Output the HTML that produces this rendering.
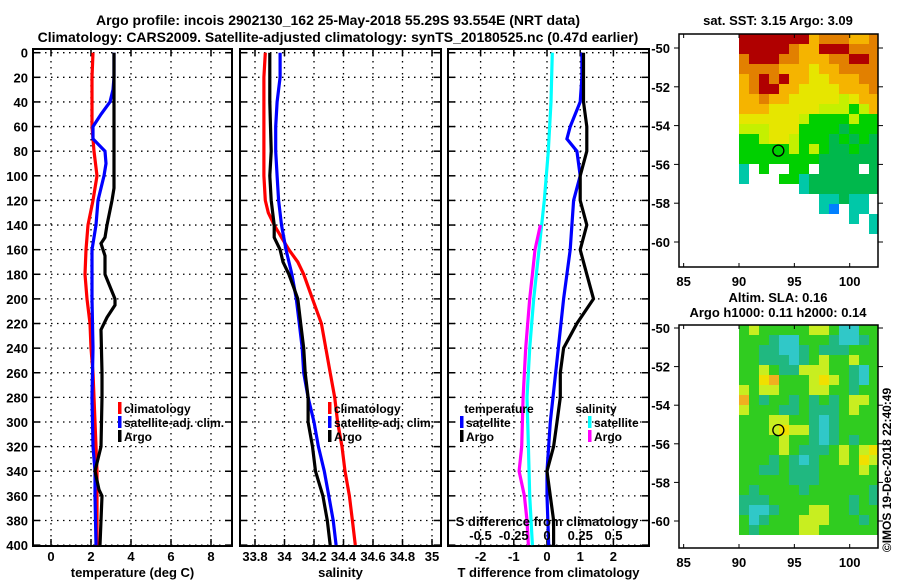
<!DOCTYPE html>
<html><head><meta charset="utf-8"><style>
html,body{margin:0;padding:0;background:#fff}
svg text{font-family:"Liberation Sans",sans-serif;font-weight:bold;fill:#000}
</style></head><body>
<svg id="chart" width="900" height="580" viewBox="0 0 900 580" xmlns="http://www.w3.org/2000/svg">
<rect width="900" height="580" fill="#fff"/>
<text x="338" y="25" font-size="14" text-anchor="middle">Argo profile: incois 2902130_162 25-May-2018 55.29S 93.554E (NRT data)</text>
<text x="338" y="42" font-size="14" text-anchor="middle">Climatology: CARS2009. Satellite-adjusted climatology: synTS_20180525.nc (0.47d earlier)</text>
<g id="g"></g>
</svg>
<script>
// ---- data ----
const depthTicks=[0,20,40,60,80,100,120,140,160,180,200,220,240,260,280,300,320,340,360,380,400];
const tTicks=[0,2,4,6,8];
const sTicks=[33.8,34,34.2,34.4,34.6,34.8,35];
const sTickLabels=["33.8","34","34.2","34.4","34.6","34.8","35"];
const dTTicks=[-2,-1,0,1,2];
const dSTicks=[-0.5,-0.25,0,0.25,0.5];
const dSTickLabels=["-0.5","-0.25","0","0.25","0.5"];

const tClimDepth=[0,20,60,80,100,120,140,160,180,200,220,240,260,280,300,320,340,360,380,400];
const tClim=[2.1,2.05,2.05,2.15,2.3,2.1,1.85,1.75,1.7,1.8,1.95,2.0,2.1,2.15,2.2,2.25,2.3,2.3,2.3,2.3];
const tSatDepth=[0,20,30,40,50,60,70,80,90,100,120,140,160,200,240,280,320,340,360,400];
const tSat=[3.15,3.15,3.1,2.95,2.5,2.1,2.1,2.7,2.75,2.65,2.35,2.25,2.05,2.05,2.1,2.05,2.1,2.2,2.2,2.25];
const tArgoDepth=[0,110,120,140,150,155,165,180,190,200,205,215,225,260,280,320,330,340,355,360,400];
const tArgo=[3.15,3.15,3.05,2.8,2.7,2.5,2.7,2.7,2.95,3.2,3.2,2.8,2.5,2.55,2.55,2.5,2.35,2.2,2.4,2.55,2.45];

const sClimDepth=[0,20,60,100,120,130,140,150,160,170,180,200,220,240,260,280,300,320,340,360,380,400];
const sClim=[33.87,33.86,33.86,33.86,33.87,33.89,33.93,33.98,34.03,34.09,34.13,34.19,34.25,34.28,34.31,34.34,34.36,34.39,34.41,34.44,34.46,34.48];
const sSatDepth=[0,20,40,60,80,100,120,140,160,180,200,220,240,260,280,300,320,340,360,380,400];
const sSat=[33.97,33.97,33.95,33.94,33.94,33.95,33.96,33.98,34.01,34.05,34.08,34.1,34.12,34.13,34.16,34.2,34.23,34.27,34.3,34.33,34.35];
const sArgoDepth=[0,40,80,100,120,140,150,160,170,180,190,200,220,240,260,280,300,320,340,360,380,400];
const sArgo=[33.9,33.9,33.91,33.9,33.91,33.93,33.93,33.97,33.99,34.03,34.06,34.09,34.11,34.13,34.14,34.16,34.16,34.19,34.21,34.26,34.29,34.31];

const dTSatDepth=[0,20,40,60,70,80,100,120,160,200,250,300,340,360,400];
const dTSat=[1.05,1.05,1.0,0.7,0.6,0.9,1.0,0.8,0.7,0.5,0.3,0.1,0.0,0.0,0.05];
const dTArgoDepth=[0,40,60,80,100,120,140,160,180,200,220,240,260,280,300,320,340,360,380,400];
const dTArgo=[1.1,1.1,1.2,1.2,1.0,1.0,1.2,1.0,1.2,1.4,0.9,0.5,0.4,0.4,0.3,0.2,0.0,0.1,0.2,0.2];
const dSSatDepth=[0,40,80,120,160,200,240,280,320,360,400];
const dSSat=[0.04,0.03,0.01,-0.02,-0.06,-0.1,-0.13,-0.15,-0.14,-0.13,-0.11];
const dSArgoDepth=[140,160,180,200,240,280,320,340,360,380,400];
const dSArgo=[-0.05,-0.09,-0.11,-0.13,-0.16,-0.18,-0.19,-0.21,-0.17,-0.15,-0.14];

const lonTicks=[85,90,95,100];
const latTicks=[-50,-52,-54,-56,-58,-60];
const argoLon=93.554, argoLat=-55.29;
const sstRows=[
"rrrrrrryoooyyo","rrrrroyyrrrooo","orrrooyyyoorro","ooooyyyYyyoooo","yororyyYYyyyoo",
"yorryyYYYYyyyo","yyoyyYYYYYlYyy","yyyYYYYYlllgly","YYYYYYlgggglgg","lllYYYggggGggg",
"gglYYlgggGgGgG","ggggglglgGGgGG","ggggggggGGGGGG","c.g..gg.GGGG.G","c...ggcGGGGGGG",
"......cGGGGGGG","........ccGcc.","........cb.cc.","...........c.c",".............c"];
const slaRows=[
"gygggggyygccgg","gggtccgggtcctg","ggttcctgtttggg","ggtttctgyggygg","ggygttyyyggtcg",
"ggYogggyYygtcg","ygyygggyyggtgg","ogtggtgtgtgyyg","ygggttgtttgygg","gggyyggtctgggg",
"gggyYyytctgggg","ggggyggtctgtgg","ggggygtttgygyY","gggtgtctggygYy","ggttgtttggggyg",
"gggggtttgggggg","gtggggtggggggtt","tttggggggggtgt","tcctgggyyggtgg","gctgggyyygggtg",
"gtggggyygggggg"];

// ---- drawing ----
const NS="http://www.w3.org/2000/svg";
const G=document.getElementById('g');
function el(tag,attrs,parent){const e=document.createElementNS(NS,tag);for(const k in attrs)e.setAttribute(k,attrs[k]);(parent||G).appendChild(e);return e;}
function txt(s,x,y,size,anchor,parent){const t=el('text',{x:x,y:y,'font-size':size,'text-anchor':anchor||'middle'},parent);t.textContent=s;return t;}
const Y0=52.7,YK=1.231;
const yD=d=>Y0+YK*d;
const TOP=49,BOT=546;

function panel(name,x0,x1,xs,ticks,labels,xlabel,showY){
  const g=el('g',{});
  
  
  depthTicks.forEach(d=>{const y=yD(d);
    const l=el('line',{x1:x0,x2:x1,y1:y,y2:y,stroke:'#000','stroke-width':1.3,'stroke-dasharray':'1.5 4.5'},g);
    
    el('line',{x1:x0,x2:x0+7,y1:y,y2:y,stroke:'#000','stroke-width':1.5},g);
    el('line',{x1:x1-7,x2:x1,y1:y,y2:y,stroke:'#000','stroke-width':1.5},g);
    if(showY){const t=txt(String(d),28,y+5,13,'end',g);}
  });
  ticks.forEach((v,i)=>{const x=xs(v);
    const l=el('line',{x1:x,x2:x,y1:TOP,y2:BOT,stroke:'#000','stroke-width':1.3,'stroke-dasharray':'1.5 4.5'},g);
    
    el('line',{x1:x,x2:x,y1:TOP,y2:TOP+7,stroke:'#000','stroke-width':1.5},g);
    el('line',{x1:x,x2:x,y1:BOT-7,y2:BOT,stroke:'#000','stroke-width':1.5},g);
    if(labels){const t=txt(labels[i],x,561,13,'middle',g);}
  });
  const f=el('rect',{x:x0,y:TOP,width:x1-x0,height:BOT-TOP,fill:'none',stroke:'#000','stroke-width':2},g);
  
  const xl=txt(xlabel,(x0+x1)/2,577,13,'middle',g);
  
  
  return g;
}
function line(g,xs,depths,vals,color,name){
  const pts=depths.map((d,i)=>xs(vals[i]).toFixed(1)+','+yD(d).toFixed(1)).join(' ');
  const p=el('polyline',{points:pts,fill:'none',stroke:color,'stroke-width':3.2,'stroke-linejoin':'miter'},g);
  
  
}
function legend(g,x,y,color,label,name){
  const r=el('rect',{x:x,y:y-11,width:3.5,height:12,fill:color},g);
  const t=txt(label,x+6,y,12,'start',g);
  
  
}

// panel 1 temperature
const xT=v=>51+20*v;
const p1=panel('temperature-panel',33,232,xT,tTicks,tTicks.map(String),'temperature (deg C)',true);
line(p1,xT,tClimDepth,tClim,'#ff0000','temp-climatology-line');
line(p1,xT,tSatDepth,tSat,'#0000ff','temp-satellite-line');
line(p1,xT,tArgoDepth,tArgo,'#000','temp-argo-line');
legend(p1,118,413,'#f00','climatology','legend-climatology');
legend(p1,118,427,'#00f','satellite-adj. clim.','legend-satellite');
legend(p1,118,441,'#000','Argo','legend-argo');

// panel 2 salinity
const xS=v=>255+147.5*(v-33.8);
const p2=panel('salinity-panel',240,441,xS,sTicks,sTickLabels,'salinity',false);
line(p2,xS,sClimDepth,sClim,'#ff0000','sal-climatology-line');
line(p2,xS,sSatDepth,sSat,'#0000ff','sal-satellite-line');
line(p2,xS,sArgoDepth,sArgo,'#000','sal-argo-line');
legend(p2,328,413,'#f00','climatology','legend-climatology-2');
legend(p2,328,427,'#00f','satellite-adj. clim.','legend-satellite-2');
legend(p2,328,441,'#000','Argo','legend-argo-2');

// panel 3 differences
const xdT=v=>547+33.2*v;
const xdS=v=>547+133*v;
const p3=panel('difference-panel',448,649,xdT,dTTicks,dTTicks.map(String),'T difference from climatology',false);
line(p3,xdS,dSSatDepth,dSSat,'#00ffff','dsal-satellite-line');
line(p3,xdS,dSArgoDepth,dSArgo,'#ff00ff','dsal-argo-line');
line(p3,xdT,dTSatDepth,dTSat,'#0000ff','dtemp-satellite-line');
line(p3,xdT,dTArgoDepth,dTArgo,'#000','dtemp-argo-line');
txt('temperature',499,413,12,'middle',p3);
legend(p3,460,427,'#00f','satellite','legend-t-satellite');
legend(p3,460,441,'#000','Argo','legend-t-argo');
txt('salinity',596,413,12,'middle',p3);
legend(p3,588,427,'#0ff','satellite','legend-s-satellite');
legend(p3,588,441,'#f0f','Argo','legend-s-argo');
const st=txt('S difference from climatology',547,526,13,'middle',p3);

dSTicks.forEach((v,i)=>{const t=txt(dSTickLabels[i],xdS(v),540,13,'middle',p3);});

// maps
const lonX=lon=>739+(lon-90)*11.07;
const sstColors={r:'#b00000',o:'#e28000',y:'#f5b400',Y:'#e6e600',l:'#c4f000',g:'#00d000',G:'#00b84c',c:'#00c8a8',b:'#0080ff'};
const slaColors={g:'#30cc20',G:'#10b040',t:'#20b880',c:'#30c8c8',y:'#c8ee20',Y:'#f0e000',o:'#f0b020'};
function map(name,top,bottom,latY,rows,colors,dataTop,title){
  const g=el('g',{});
  
  
  rows.forEach((r,ri)=>{for(let ci=0;ci<r.length;ci++){const c=colors[r[ci]];if(!c)continue;
    const x=739+ci*10;const w=Math.min(10,878-x);if(w<=0)continue;
    const cell=el('rect',{x:x,y:dataTop+ri*10,width:w,height:10,fill:c},g);
    }});
  el('rect',{x:679,y:top,width:199,height:bottom-top,fill:'none',stroke:'#000','stroke-width':1.5},g);
  lonTicks.forEach(l=>{const x=lonX(l);el('line',{x1:x,x2:x,y1:top,y2:top+4,stroke:'#000'},g);el('line',{x1:x,x2:x,y1:bottom-4,y2:bottom,stroke:'#000'},g);
    const t=txt(String(l),x,bottom+19,13,'middle',g);});
  latTicks.forEach(l=>{const y=latY(l);el('line',{x1:674,x2:679,y1:y,y2:y,stroke:'#000'},g);el('line',{x1:878,x2:883,y1:y,y2:y,stroke:'#000'},g);
    const t=txt(String(l),670,y+5,13,'end',g);});
  const c=el('circle',{cx:lonX(argoLon),cy:latY(argoLat),r:5.5,fill:'none',stroke:'#000','stroke-width':1.3},g);
  
  return g;
}
const lat1=l=>48+(-50-l)*19.4;
const m1=map('sst-map',34,267,lat1,sstRows,sstColors,34);
const t1=txt('sat. SST: 3.15 Argo: 3.09',778,25,13,'middle');

const lat2=l=>328+(-50-l)*19.3;
const m2=map('sla-map',325,548,lat2,slaRows,slaColors,325);
const t2=txt('Altim. SLA: 0.16',778,302,13,'middle');

const t3=txt('Argo h1000: 0.11 h2000: 0.14',778,317,13,'middle');

const cr=txt('©IMOS 19-Dec-2018 22:40:49',0,0,12,'middle');
cr.setAttribute('transform','translate(891,470) rotate(-90)');


</script>
</body></html>
